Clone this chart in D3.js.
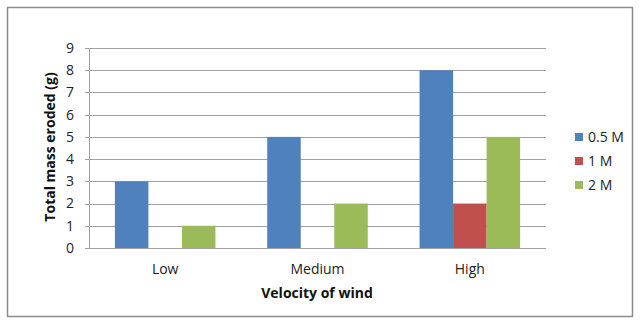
<!DOCTYPE html>
<html><head><meta charset="utf-8">
<script src="https://cdn.jsdelivr.net/npm/d3@7"></script>
<style>body{margin:0;background:#fff}svg{display:block}</style>
</head><body>
<svg id="c" width="640" height="324"></svg>
<script>
const categories = ["Low", "Medium", "High"];
const seriesNames = ["0.5 M", "1 M", "2 M"];
const s05 = [3, 5, 8];
const s1 = [0, 0, 2];
const s2 = [1, 2, 5];
const yTicks = [0,1,2,3,4,5,6,7,8,9];
const colors = ["#4F81BD", "#C0504D", "#9BBB59"];
const seriesValues = [s05, s1, s2];

const svg = d3.select("#c");
const font = "'Open Sans', sans-serif";
svg.append("rect").attr("x",7.5).attr("y",7.5).attr("width",625).attr("height",309)
  .attr("fill","#fff").attr("stroke","#8c8c8c").attr("stroke-width",1.5);

const L = 89, R = 546, T = 48, B = 248;
const y = d3.scaleLinear().domain([0,9]).range([B,T]);
const x0 = d3.scaleBand().domain(categories).range([L,R]).paddingInner(0.34).paddingOuter(0.17);
const x1 = d3.scaleBand().domain(seriesNames).range([0,x0.bandwidth()]);

// gridlines
svg.append("g").selectAll("line").data(yTicks).join("line")
  .attr("x1",L-4).attr("x2",R).attr("y1",d=>Math.round(y(d))+0.5).attr("y2",d=>Math.round(y(d))+0.5)
  .attr("stroke","#a0a0a0").attr("stroke-width",1);
// y axis line
svg.append("line").attr("x1",L+0.5).attr("x2",L+0.5).attr("y1",T).attr("y2",B).attr("stroke","#a0a0a0");
// y tick labels
svg.append("g").selectAll("text").data(yTicks).join("text")
  .attr("x",L-15).attr("y",d=>y(d)).attr("dy","0.35em").attr("text-anchor","end")
  .attr("font-family",font).attr("font-size",14).attr("fill","#222").text(d=>d);

// bars
const g = svg.append("g").selectAll("g").data(categories).join("g")
  .attr("transform",d=>`translate(${x0(d)},0)`);
g.selectAll("rect").data((d,i)=>seriesNames.map((s,j)=>({s,v:seriesValues[j][i],c:colors[j]})))
  .join("rect")
  .attr("x",d=>x1(d.s)).attr("width",x1.bandwidth())
  .attr("y",d=>y(d.v)).attr("height",d=>B-y(d.v)).attr("fill",d=>d.c);

// x labels
svg.append("g").selectAll("text").data(categories).join("text")
  .attr("x",d=>x0(d)+x0.bandwidth()/2).attr("y",274).attr("text-anchor","middle")
  .attr("font-family",font).attr("font-size",14).attr("fill","#222").text(d=>d);

svg.append("text").attr("x",317).attr("y",298).attr("text-anchor","middle")
  .attr("font-family",font).attr("font-size",14).attr("font-weight","bold").attr("fill","#111")
  .text("Velocity of wind");
svg.append("text").attr("transform","translate(55,147) rotate(-90)").attr("text-anchor","middle")
  .attr("font-family",font).attr("font-size",14).attr("font-weight","bold").attr("fill","#111")
  .text("Total mass eroded (g)");

// legend
const lg = svg.append("g").selectAll("g").data(seriesNames).join("g")
  .attr("transform",(d,i)=>`translate(575,${133+i*24})`);
lg.append("rect").attr("width",8).attr("height",8).attr("fill",(d,i)=>colors[i]);
lg.append("text").attr("x",13).attr("y",4).attr("dy","0.38em")
  .attr("font-family",font).attr("font-size",14).attr("fill","#222").text(d=>d);
</script>
</body></html>
